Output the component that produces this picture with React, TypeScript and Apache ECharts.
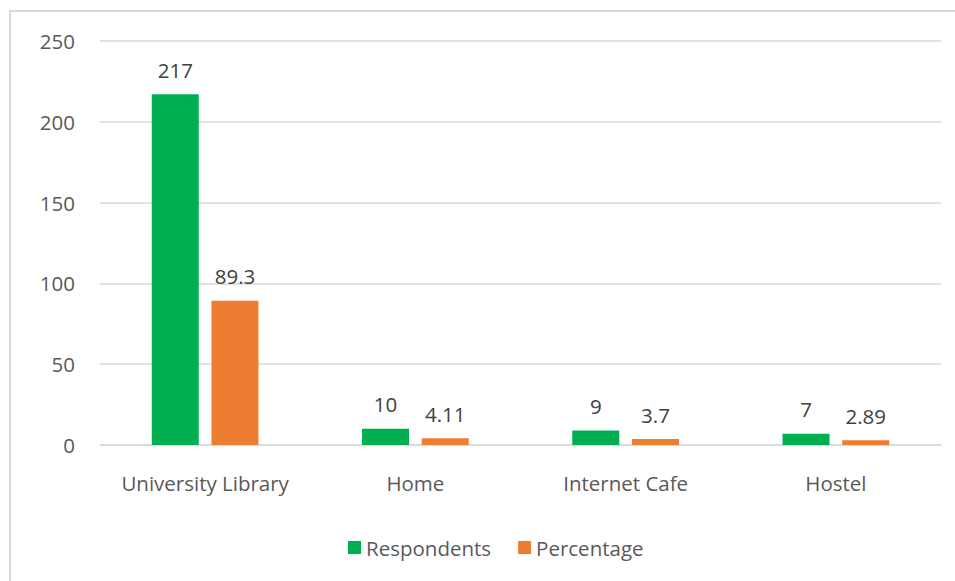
import React, { useEffect, useRef } from "react";
import * as echarts from "echarts";

const categories = ["University Library", "Home", "Internet Cafe", "Hostel"];
const respondents = [217, 10, 9, 7];
const percentage = [89.3, 4.11, 3.7, 2.89];
const yTicks = [0, 50, 100, 150, 200, 250];

const FONT = "'Open Sans', sans-serif";
const FS = 20.5;

export default function App() {
  const ref = useRef<HTMLDivElement>(null);
  useEffect(() => {
    const chart = echarts.init(ref.current!, null, { renderer: "svg" });
    chart.setOption({
      animation: false,
      backgroundColor: "#ffffff",
      textStyle: { fontFamily: FONT },
      graphic: [
        {
          type: "rect",
          shape: { x: 10, y: 11, width: 1000, height: 700 },
          style: { fill: "none", stroke: "#d9d9d9", lineWidth: 2 },
          silent: true,
        },
      ],
      grid: { left: 100, right: 14, top: 41, bottom: 136, containLabel: false },
      legend: {
        bottom: 18,
        left: 343,
        itemWidth: 13,
        itemHeight: 13,
        itemGap: 27,
        itemTextGap: 7,
        icon: "rect",
        textStyle: { color: "#595959", fontSize: FS, fontFamily: FONT },
        data: ["Respondents", "Percentage"],
      },
      xAxis: {
        type: "category",
        data: categories,
        axisLine: { lineStyle: { color: "#d9d9d9", width: 1.5 } },
        axisTick: { show: false },
        axisLabel: { color: "#595959", fontSize: FS, margin: 27, interval: 0, fontFamily: FONT },
      },
      yAxis: {
        type: "value",
        min: yTicks[0],
        max: yTicks[yTicks.length - 1],
        interval: 50,
        axisLine: { show: false },
        axisTick: { show: false },
        splitLine: { lineStyle: { color: "#d9d9d9", width: 1.5 } },
        axisLabel: { color: "#595959", fontSize: FS, margin: 25, fontFamily: FONT },
      },
      series: [
        {
          name: "Respondents",
          type: "bar",
          data: respondents,
          barWidth: 47,
          barGap: "27%",
          itemStyle: { color: "#00B050" },
          label: { show: true, position: "top", distance: 14, color: "#404040", fontSize: FS, fontFamily: FONT },
        },
        {
          name: "Percentage",
          type: "bar",
          data: percentage,
          barWidth: 47,
          itemStyle: { color: "#ED7D31" },
          label: { show: true, position: "top", distance: 14, color: "#404040", fontSize: FS, fontFamily: FONT },
        },
      ],
    });
    return () => chart.dispose();
  }, []);
  return (
    <div
      ref={ref}
      style={{ position: "fixed", left: 0, top: 0, width: 955, height: 581 }}
    />
  );
}
